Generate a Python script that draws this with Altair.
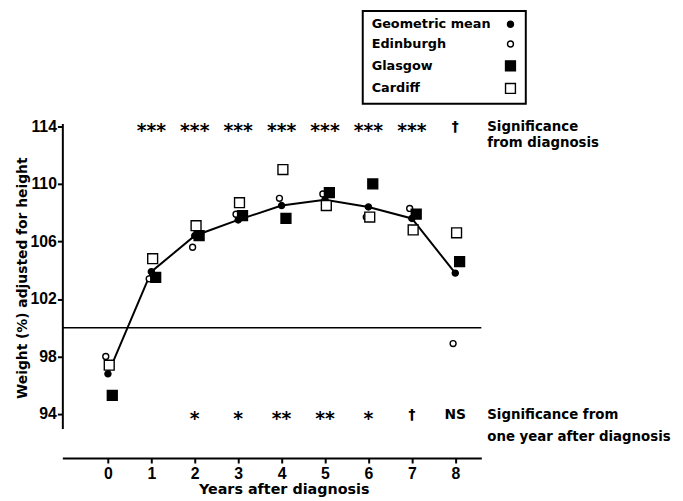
import altair as alt
import pandas as pd

# ---- data ----
years = [0, 1, 2, 3, 4, 5, 6, 7, 8]
geo_mean = [96.8, 103.9, 106.4, 107.5, 108.5, 108.9, 108.4, 107.6, 103.8]
edinburgh = [98.0, 103.4, 105.6, 107.9, 109.0, 109.3, 107.7, 108.3, 98.9]
glasgow = [95.3, 103.5, 106.4, 107.8, 107.6, 109.4, 110.0, 107.9, 104.6]
cardiff = [97.4, 104.8, 107.1, 108.7, 111.0, 108.5, 107.7, 106.8, 106.6]
series_names = ["Geometric mean", "Edinburgh", "Glasgow", "Cardiff"]

sig_diag_years = [1, 2, 3, 4, 5, 6, 7, 8]
sig_diag_labels = ["***", "***", "***", "***", "***", "***", "***", "†"]
sig_one_years = [2, 3, 4, 5, 6, 7, 8]
sig_one_labels = ["*", "*", "**", "**", "*", "†", "NS"]

ref_level = [100]
y_tick_values = [94, 96, 98, 100, 102, 104, 106, 108, 110, 112, 114]
x_tick_values = years

FONT = "DejaVu Sans"
NUM_FONT = "Liberation Sans"

rows = []
for name, vals in zip(series_names, [geo_mean, edinburgh, glasgow, cardiff]):
    for yr, v in zip(years, vals):
        rows.append({"year": yr, "weight": v, "series": name})
df = pd.DataFrame(rows)
dodge = {"Geometric mean": 0.0, "Edinburgh": -0.05, "Glasgow": 0.1, "Cardiff": 0.03}
df["xpos"] = df["year"] + df["series"].map(dodge)

xs = alt.Scale(domain=[-1.05, 8.6], nice=False, zero=False)
ys = alt.Scale(domain=[93, 114.2], nice=False, zero=False)

x_axis = alt.Axis(
    values=x_tick_values, offset=30, grid=False, domainColor="black", domainWidth=2,
    tickColor="black", tickWidth=2, tickSize=5, labelFontSize=16, labelFont=NUM_FONT,
    labelFontWeight="bold", labelColor="black", labelPadding=3, titleFont=FONT,
    titleFontSize=14.5, titleFontWeight="bold", titleColor="black",
    titleX=224, titleY=25, titleBaseline="top",
    format="d",
)
y_axis = alt.Axis(
    values=y_tick_values, grid=False, domainColor="black", domainWidth=2,
    tickColor="black", tickWidth=2, tickSize=5, labelFontSize=16, labelFont=NUM_FONT,
    labelFontWeight="bold", labelColor="black", labelPadding=1,
    labelExpr="datum.value % 4 == 2 ? datum.label : ''",
    titleFont=FONT, titleFontSize=14, titleFontWeight="bold", titleColor="black",
    titleX=-33, titleY=156, titleAngle=270, titleBaseline="bottom",
)

leg = alt.Legend(
    title=None, orient="none", legendX=304, legendY=-114, padding=7,
    strokeColor="black", symbolOffset=136, labelOffset={"expr": "-147"}, labelFont=FONT,
    labelFontSize=13, labelFontWeight="bold", labelColor="black", rowPadding=6,
    symbolStrokeWidth=1.4,
)

rule = alt.Chart(pd.DataFrame({"level": ref_level})).mark_rule(
    color="black", strokeWidth=1.5
).encode(y=alt.Y("level:Q", scale=ys))

line = alt.Chart(df).transform_filter(
    alt.datum.series == "Geometric mean"
).mark_line(color="black", strokeWidth=2).encode(
    x=alt.X("year:Q", scale=xs, axis=x_axis, title="Years after diagnosis"),
    y=alt.Y("weight:Q", scale=ys, axis=y_axis, title="Weight (%) adjusted for height"),
)

points = alt.Chart(df).mark_point(
    filled=True, opacity=1, strokeWidth=1.4
).encode(
    x=alt.X("xpos:Q", scale=xs),
    y=alt.Y("weight:Q", scale=ys),
    fill=alt.Fill("series:N", scale=alt.Scale(domain=series_names,
                  range=["black", "white", "black", "white"]), legend=leg),
    stroke=alt.Stroke("series:N", scale=alt.Scale(domain=series_names,
                      range=["black", "black", "black", "black"]), legend=leg),
    shape=alt.Shape("series:N", scale=alt.Scale(domain=series_names,
                    range=["circle", "circle", "square", "square"]), legend=leg),
    size=alt.Size("series:N", scale=alt.Scale(type="ordinal", domain=series_names,
                  range=[38, 36, 100, 100]), legend=leg),
)

top_df = pd.DataFrame({"year": sig_diag_years, "label": sig_diag_labels, "lvl": 114})
bot_df = pd.DataFrame({"year": sig_one_years, "label": sig_one_labels, "lvl": 94})

is_star = "indexof(datum.label, '*') >= 0"


def sig_layers(frame):
    stars = alt.Chart(frame).transform_filter(is_star).mark_text(
        font=FONT, fontSize=19, fontWeight="bold", color="black",
        baseline="alphabetic", dy=11,
    ).encode(x=alt.X("year:Q", scale=xs), y=alt.Y("lvl:Q", scale=ys), text="label:N")
    others = alt.Chart(frame).transform_filter("!(" + is_star + ")").mark_text(
        font=FONT, fontSize=14, fontWeight="bold", color="black",
        baseline="middle", dy=1,
    ).encode(x=alt.X("year:Q", scale=xs), y=alt.Y("lvl:Q", scale=ys), text="label:N")
    return [stars, others]


note_top = alt.Chart(pd.DataFrame({"t": ["Significance\nfrom diagnosis"], "lvl": [114]})).mark_text(
    font=FONT, fontSize=13.5, fontWeight="bold", color="black", align="left",
    baseline="top", dy=-6, lineBreak="\n", lineHeight=16,
).encode(x=alt.value(430), y=alt.Y("lvl:Q", scale=ys), text="t:N")

note_bot = alt.Chart(pd.DataFrame({"t": ["Significance from\none year after diagnosis"], "lvl": [94]})).mark_text(
    font=FONT, fontSize=13.5, fontWeight="bold", color="black", align="left",
    baseline="top", dy=-6, lineBreak="\n", lineHeight=22,
).encode(x=alt.value(430), y=alt.Y("lvl:Q", scale=ys), text="t:N")

chart = alt.layer(
    rule, line, points, *sig_layers(top_df), *sig_layers(bot_df), note_top, note_bot
).properties(
    width=424, height=308.5,
    padding={"left": 55, "top": 114, "right": 196, "bottom": 70},
    autosize=alt.AutoSizeParams(type="none"),
).configure_view(stroke=None).configure_legend(strokeWidth=2)

chart.save("out.html", embed_options={"renderer": "svg", "actions": False})
